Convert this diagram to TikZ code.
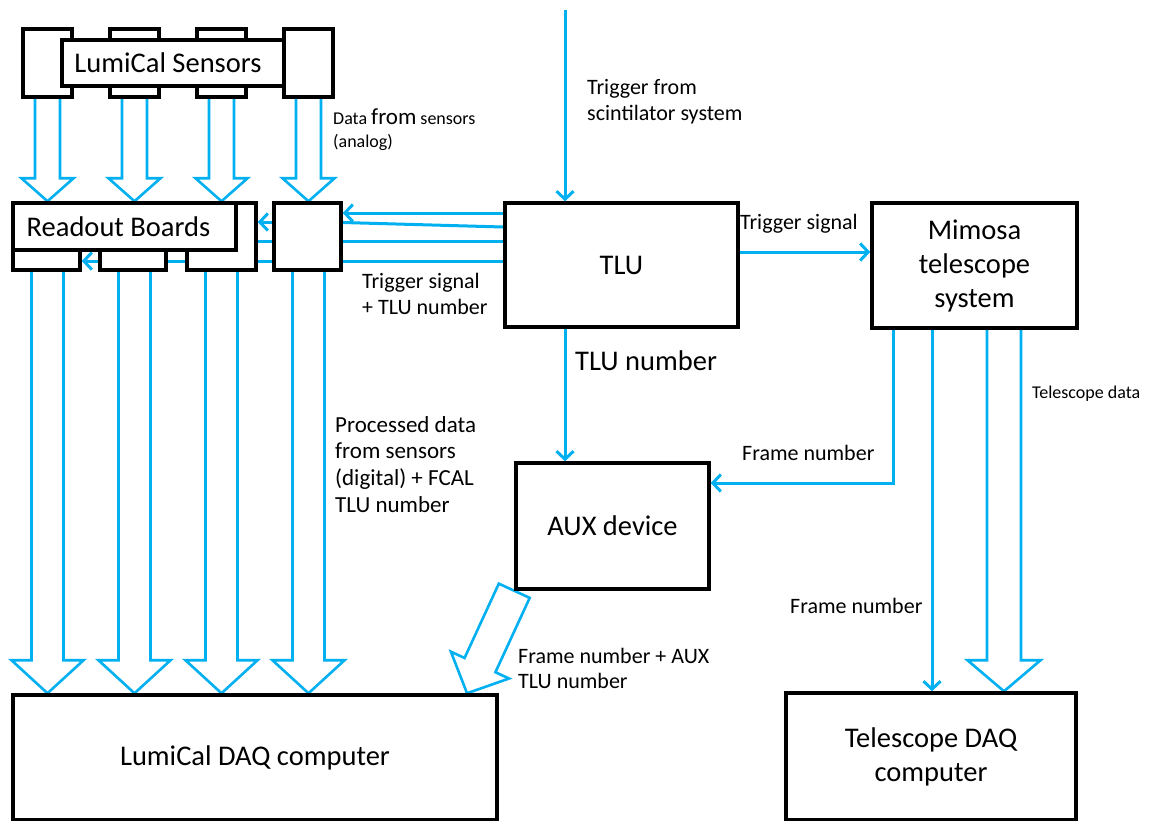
\documentclass[tikz,border=0pt]{standalone}
\usepackage{fontspec}
\setmainfont{Carlito}
\usetikzlibrary{arrows.meta,calc}
\definecolor{cy}{HTML}{00B0F0}
\pgfdeclarelayer{background}
\pgfsetlayers{background,main}
\tikzset{
  box/.style={draw=black, line width=3.5pt, fill=white, inner sep=0pt, rectangle, text=black},
  conn/.style={draw=cy, line width=3pt},
  arr/.style={conn, -{Straight Barb[length=8pt,width=17pt]}},
  hollow/.style={draw=cy, line width=2.6pt, line join=miter},
  big/.style={font=\fontsize{28.5}{34}\selectfont},
  mid/.style={font=\fontsize{22}{26}\selectfont},
  small/.style={font=\fontsize{18}{23}\selectfont},
  lbl/.style={inner sep=0pt, text=black, anchor=base west},
}
% hollow block arrow: #1 start, #2 tip, #3 shaft half width, #4 head half width, #5 head length, #6 cycle or empty
\newcommand\bigarrow[6]{%
  \path #1 coordinate (ba-s) #2 coordinate (ba-t);
  \coordinate (ba-h) at ($(ba-t)!#5pt!(ba-s)$);
  \draw[hollow] ($(ba-s)!#3pt!90:(ba-t)$) -- ($(ba-h)!#3pt!90:(ba-t)$)
    -- ($(ba-h)!#4pt!90:(ba-t)$) -- (ba-t) -- ($(ba-h)!#4pt!-90:(ba-t)$)
    -- ($(ba-h)!#3pt!-90:(ba-t)$) -- ($(ba-s)!#3pt!-90:(ba-t)$) #6;
}
\begin{document}
\begin{tikzpicture}[x=1pt,y=-1pt]
\useasboundingbox (0,0) rectangle (1150,820);
% sensors
\node[box,minimum width=49,minimum height=68] (s1) at (47.5,63) {};
\node[box,minimum width=49,minimum height=68] (s2) at (134.5,63) {};
\node[box,minimum width=49,minimum height=68] (s3) at (221.5,63) {};
\node[box,big,minimum width=222,minimum height=46] (sl) at (173,63) {\hspace*{-10pt}LumiCal Sensors};
\node[box,minimum width=49,minimum height=68] (s4) at (308.5,63) {};
% readout boards
\node[box,minimum width=67,minimum height=67] (r1) at (46.5,236.5) {};
\node[box,minimum width=66,minimum height=67] (r2) at (133,236.5) {};
\node[box,minimum width=69,minimum height=67] (r3) at (221.5,236.5) {};
\node[box,big,minimum width=223,minimum height=47] (rl) at (124.5,226.5) {\hspace*{-12pt}Readout Boards};
\node[box,minimum width=67,minimum height=67] (r4) at (307.5,236.5) {};
% main boxes
\node[box,big,minimum width=233,minimum height=124] (tlu) at (621.5,265) {TLU};
\node[box,big,align=center,minimum width=205,minimum height=125] (mim) at (974.5,265.5) {Mimosa\\telescope\\system};
\node[box,big,minimum width=193,minimum height=126] (aux) at (612.5,526) {AUX device};
\node[box,big,minimum width=484,minimum height=125] (daq) at (255,757.5) {LumiCal DAQ computer};
\node[box,big,align=center,minimum width=290,minimum height=127] (tdaq) at (931,756.5) {Telescope DAQ\\computer};
% labels
\node[lbl,small] (ldata) at (333,124) {\begin{tabular}[t]{@{}l@{}}Data {\fontsize{23}{23}\selectfont from} sensors\\(analog)\end{tabular}};
\node[lbl,mid] (ltrig) at (587,94) {\begin{tabular}[t]{@{}l@{}}Trigger from\\scintilator system\end{tabular}};
\node[lbl,mid] (ltsig) at (362,288) {\begin{tabular}[t]{@{}l@{}}Trigger signal\\+ TLU number\end{tabular}};
\node[lbl,mid] (ltsig2) at (740,229) {Trigger signal};
\node[lbl,big] (ltlun) at (575,370) {TLU number};
\node[lbl,font=\fontsize{23}{26.7}\selectfont] (lproc) at (335,432) {\begin{tabular}[t]{@{}l@{}}Processed data\\from sensors\\(digital) + FCAL\\TLU number\end{tabular}};
\node[lbl,mid] (lfr1) at (742,460) {Frame number};
\node[lbl,mid] (lfr2) at (790,613) {Frame number};
\node[lbl,small] (ltel) at (1032,398) {Telescope data};
\node[lbl,mid,font=\fontsize{22}{25}\selectfont] (lfaux) at (518,663) {\begin{tabular}[t]{@{}l@{}}Frame number + AUX\\TLU number\end{tabular}};
% connectors
\begin{pgfonlayer}{background}
\fill[white] (0,0) rectangle (1150,820);
\coordinate (trigtop) at (565,10);
\draw[arr] (trigtop) -- (trigtop |- tlu.north);
\draw[arr] (trigtop |- tlu.south) -- (trigtop |- aux.north);
\draw[arr] (tlu.west |- 0,213) -- (r4.east |- 0,213);
\draw[conn] (tlu.west |- 0,227) -- (r4.east |- 0,222.5);
\draw[arr] (r4.west |- 0,222) -- (r3.east |- 0,222);
\draw[conn] (tlu.west |- 0,241) -- (r3.east |- 0,241);
\draw[arr] (tlu.west |- 0,261) -- (r1.east |- 0,261);
\draw[arr] (tlu.east |- 0,252) -- (mim.west |- 0,252);
\draw[arr] (mim.south -| 893,0) |- (aux.east |- 0,483);
\draw[arr] (mim.south -| 932,0) -- (tdaq.north -| 932,0);
\foreach \s/\r in {s1/r1,s2/r2,s3/r3,s4/r4}{
  \bigarrow{(\s.south)}{(\s.south |- \r.north)}{12.5}{26}{23}{}
  \bigarrow{(\s.south |- \r.south)}{(\s.south |- daq.north)}{16}{36}{33}{}
}
\bigarrow{(mim.south -| 1004,0)}{(tdaq.north -| 1004,0)}{17}{36.5}{31}{}
\bigarrow{(aux.south west)}{(daq.north -| 467,0)}{17}{32}{31}{-- cycle}
\end{pgfonlayer}
\end{tikzpicture}
\end{document}
